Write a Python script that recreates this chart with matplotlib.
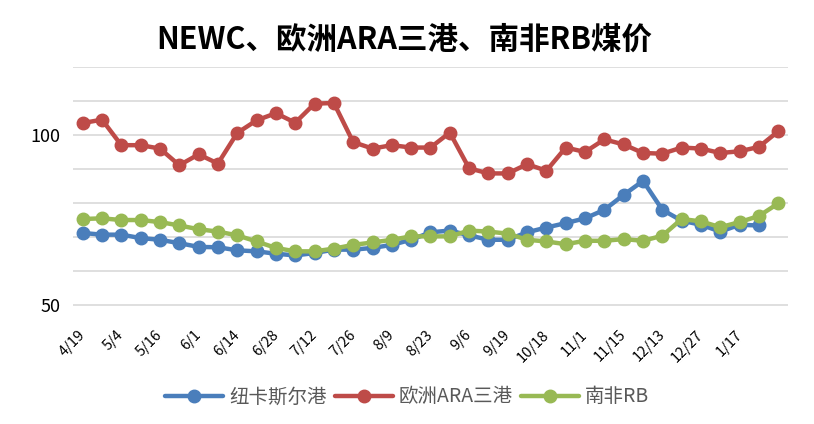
import matplotlib.pyplot as plt
import numpy as np

plt.rcParams['font.family'] = ['Noto Sans CJK SC', 'DejaVu Sans']

tick_labels = ['4/19', '5/4', '5/16', '6/1', '6/14', '6/28', '7/12', '7/26', '8/9',
               '8/23', '9/6', '9/19', '10/18', '11/1', '11/15', '12/13', '12/27', '1/17']

newc = [71.3, 70.8, 70.8, 69.8, 69.3, 68.3, 67.2, 67.1, 66.2, 65.9, 65.2, 64.7, 65.4,
        66.4, 66.4, 66.9, 67.8, 69.3, 71.5, 72.0, 70.6, 69.3, 69.3, 71.5, 72.9, 74.2,
        75.6, 78.1, 82.5, 86.6, 78.1, 74.9, 73.7, 71.7, 73.7, 73.5]
ara = [103.6, 104.6, 97.1, 97.1, 96.1, 91.2, 94.4, 91.7, 100.7, 104.4, 106.5, 103.7,
       109.3, 109.5, 98.0, 96.1, 97.1, 96.4, 96.4, 100.8, 90.3, 88.8, 88.8, 91.5, 89.6,
       96.4, 95.1, 98.8, 97.3, 94.8, 94.6, 96.4, 96.1, 94.8, 95.3, 96.6, 101.2]
rb = [75.4, 75.6, 75.1, 75.1, 74.5, 73.5, 72.4, 71.7, 70.6, 68.8, 66.9, 65.9, 65.9,
      66.7, 67.8, 68.5, 69.3, 70.3, 70.3, 70.3, 72.0, 71.7, 71.1, 69.3, 68.8, 68.0,
      69.0, 69.0, 69.5, 69.0, 70.5, 75.4, 74.7, 73.0, 74.5, 76.3, 80.0]

fig = plt.figure(figsize=(8.14, 4.24), dpi=100)
ax = fig.add_axes([0.0897, 0.278, 0.968 - 0.0897, 0.843 - 0.278])

style = dict(linewidth=3.2, marker='o', markersize=9, solid_capstyle='round')
ax.plot(np.arange(len(newc)), newc, color='#4A7EBB', label='纽卡斯尔港', zorder=3, **style)
ax.plot(np.arange(len(ara)), ara, color='#BE4B48', label='欧洲ARA三港', zorder=4, **style)
ax.plot(np.arange(len(rb)), rb, color='#98B954', label='南非RB', zorder=5, **style)

ax.set_xlim(-0.5, len(ara) - 0.5)
ax.set_ylim(49.8, 120.2)
ax.set_yticks([50, 100])
ax.set_yticks(np.arange(50, 121, 10), minor=True)
ax.tick_params(axis='y', which='both', length=0, labelsize=13, pad=9)
ax.grid(axis='y', which='both', color='#D9D9D9', linewidth=1.2, zorder=0)

# 横轴标签每两个点一个，45度斜放
ax.set_xticks(np.arange(len(tick_labels)) * 2)
ax.set_xticklabels(tick_labels, rotation=45, ha='right', va='center', fontsize=10.5,
                   rotation_mode='anchor')
ax.tick_params(axis='x', length=0, pad=19)

for s in ax.spines.values():
    s.set_visible(False)

fig.suptitle('NEWC、欧洲ARA三港、南非RB煤价', fontsize=22, fontweight='bold',
             x=0.497, y=0.945)

leg = ax.legend(loc='center', bbox_to_anchor=(0.5, 0.064), bbox_transform=fig.transFigure,
                ncol=3, frameon=False, fontsize=14, handlelength=3, columnspacing=0.4,
                handletextpad=0.3)
for t in leg.get_texts():
    t.set_color('#595959')

fig.savefig('out.png', dpi=100)
